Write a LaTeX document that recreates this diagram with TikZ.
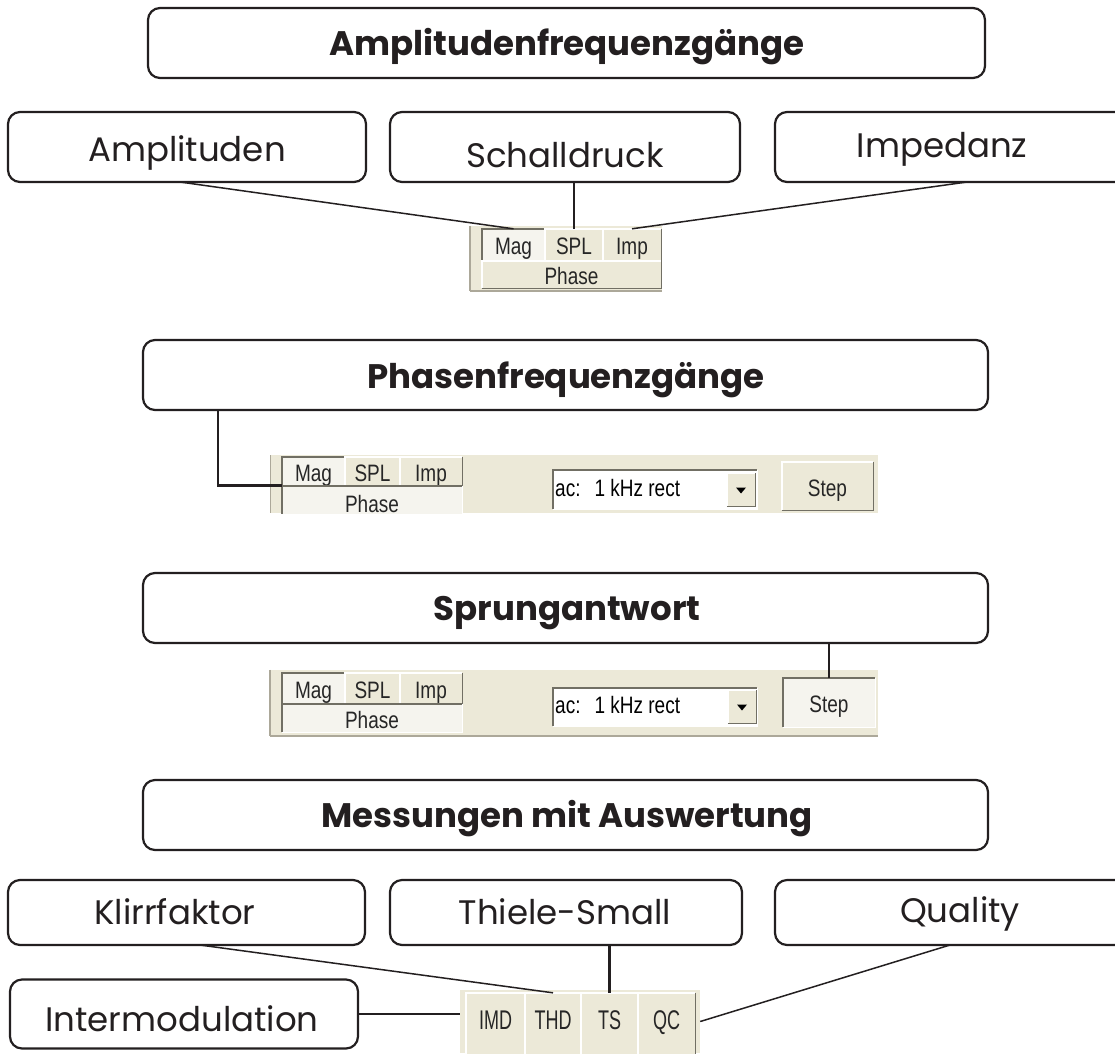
\documentclass[tikz,border=0pt]{standalone}
\usepackage{fontspec}
\usepackage{graphicx}
\setmainfont{Poppins}
\newfontfamily\uifont{Liberation Sans}
\usetikzlibrary{calc}
\definecolor{face}{HTML}{ECE9D8}
\definecolor{pressed}{HTML}{F5F4EE}
\definecolor{shadow}{HTML}{ACA899}
\definecolor{dkshadow}{HTML}{716F64}
\definecolor{ink}{HTML}{231F20}
\newcommand\ui[1]{\scalebox{1}[1.25]{#1}}
\newcommand\uib[1]{\scalebox{1}[1.5]{#1}}
\newcommand\raisedbtn[1]{%
  \draw[white, line width=1.4pt] (#1.south west) |- (#1.north east);
  \draw[dkshadow, line width=1.4pt] (#1.south west) -| (#1.north east);}
\newcommand\sunkenbtn[1]{%
  \draw[dkshadow, line width=1.4pt] (#1.south west) |- (#1.north east);
  \draw[white, line width=1.4pt] (#1.south west) -| (#1.north east);}
\tikzset{
  box/.style={draw=ink, line width=2.2pt, rounded corners=12pt, fill=white, inner sep=0pt},
  lbl/.style={font=\fontsize{34}{34}\selectfont, text=ink, anchor=base, inner sep=0pt},
  ttl/.style={font=\fontsize{34}{34}\selectfont\bfseries, text=ink, anchor=base, inner sep=0pt},
  conn/.style={draw=ink, line width=1.5pt},
  connb/.style={draw=ink, line width=2.6pt},
  panel/.style={fill=face, inner sep=0pt},
  btn/.style={fill=face, inner sep=0pt, font=\uifont\fontsize{19}{19}\selectfont, text=black!85,
    text height=20pt, text depth=0pt},
  pbtn/.style={btn, fill=pressed},
  bbtn/.style={btn, font=\uifont\fontsize{18}{18}\selectfont, text height=11.4pt, text depth=0pt},
  combo/.style={fill=white, inner sep=0pt},
  combotxt/.style={font=\uifont\fontsize{19}{19}\selectfont, text=black, inner sep=0pt, anchor=west,
    text height=14pt, text depth=0pt},
}
\begin{document}
\begin{tikzpicture}[x=1pt,y=-1pt]
\useasboundingbox (0,0) rectangle (1115,1053);
\clip (0,0) rectangle (1115,1053);
\fill[white] (0,0) rectangle (1115,1053);

% ---------- Amplitudenfrequenzgaenge ----------
\node[box, minimum width=837, minimum height=70] (ampf) at (566.5,43) {};
\node[ttl] (ampf-t) at (567,55) {Amplitudenfrequenzgänge};

\node[box, minimum width=358, minimum height=70] (amp) at (187,147) {};
\node[lbl] (amp-t) at (187,161) {Amplituden};
\node[box, minimum width=350, minimum height=70] (sch) at (565,147) {};
\node[lbl] (sch-t) at (565,167) {Schalldruck};
\node[box, minimum width=355, minimum height=70] (imp) at (952.5,147) {};
\node[lbl] (imp-t) at (942,157) {Impedanz};

% panel 1
\node[panel, minimum width=192, minimum height=65] (pan1) at (566,258.5) {};
\draw[shadow, line width=1.5pt] (pan1.north west) -- (pan1.south west);
\draw[shadow, line width=1.5pt] (pan1.south west) -- (pan1.south east);
\node[pbtn, minimum width=63, minimum height=31] (mag1) at (513.5,244.5) {\ui{Mag}};
\sunkenbtn{mag1}
\node[btn, minimum width=58, minimum height=31] (spl1) at (574,244.5) {\ui{SPL}};
\raisedbtn{spl1}
\node[btn, minimum width=58, minimum height=31] (imp1) at (632,244.5) {\ui{Imp}};
\raisedbtn{imp1}
\node[btn, minimum width=179, minimum height=27] (ph1) at (571.5,274.5) {\ui{Phase}};
\raisedbtn{ph1}

\coordinate (ampC) at (180,182);
\draw[conn] (ampC) -- (mag1.north);
\draw[connb] (spl1.north |- sch.south) -- (spl1.north);
\coordinate (impC) at (967,182);
\draw[conn] (impC) -- (imp1.north);

% ---------- Phasenfrequenzgaenge ----------
\node[box, minimum width=845, minimum height=70] (phf) at (565.5,375) {};
\node[ttl] (phf-t) at (566,388) {Phasenfrequenzgänge};

\begin{scope}
\clip (270,455) rectangle (878,513);
\node[panel, minimum width=608, minimum height=58] (pan2) at (574,484) {};
\draw[shadow, line width=1.5pt] (pan2.north west) -- (pan2.south west);
\node[pbtn, minimum width=63, minimum height=28] (mag2) at (313.5,471) {\ui{Mag}};
\sunkenbtn{mag2}
\node[btn, minimum width=55, minimum height=28] (spl2) at (372.5,471) {\ui{SPL}};
\raisedbtn{spl2}
\node[btn, minimum width=62, minimum height=28] (imp2) at (431,471) {\ui{Imp}};
\raisedbtn{imp2}
\node[pbtn, minimum width=180, minimum height=32] (ph2) at (372,502) {\ui{Phase}};
\sunkenbtn{ph2}
\node[combo, minimum width=204, minimum height=39] (combo2) at (655,489.5) {};
\sunkenbtn{combo2}
\node[combotxt] (combo2-t) at (555,489) {\ui{ac:\hspace{14pt}1 kHz rect}};
\node[btn, minimum width=28, minimum height=33] (drop2) at (741,489.5) {};
\raisedbtn{drop2}
\fill[black] ($(drop2.center)+(-5,-2)$) -- ($(drop2.center)+(5,-2)$) -- ($(drop2.center)+(0,4)$) -- cycle;
\node[btn, minimum width=91, minimum height=48] (step2) at (827.5,486) {\ui{Step}};
\raisedbtn{step2}
\end{scope}

\coordinate (phC) at (218,410);
\draw[connb] (phC) |- (mag2.south west -| ph2.west);

% ---------- Sprungantwort ----------
\node[box, minimum width=845, minimum height=70] (spr) at (565.5,608) {};
\node[ttl] (spr-t) at (567,620) {Sprungantwort};

\node[panel, minimum width=608, minimum height=66] (pan3) at (574,703) {};
\draw[shadow, line width=1.5pt] (pan3.north west) -- (pan3.south west);
\draw[shadow, line width=1.5pt] (pan3.south west) -- (pan3.south east);
\node[pbtn, minimum width=63, minimum height=30] (mag3) at (313.5,688) {\ui{Mag}};
\sunkenbtn{mag3}
\node[btn, minimum width=55, minimum height=30] (spl3) at (372.5,688) {\ui{SPL}};
\raisedbtn{spl3}
\node[btn, minimum width=62, minimum height=30] (imp3) at (431,688) {\ui{Imp}};
\raisedbtn{imp3}
\node[pbtn, minimum width=180, minimum height=28] (ph3) at (372,718) {\ui{Phase}};
\sunkenbtn{ph3}
\node[combo, minimum width=204, minimum height=38] (combo3) at (655,707) {};
\sunkenbtn{combo3}
\node[combotxt] (combo3-t) at (555,706.5) {\ui{ac:\hspace{14pt}1 kHz rect}};
\node[btn, minimum width=28, minimum height=33] (drop3) at (742,706.5) {};
\raisedbtn{drop3}
\fill[black] ($(drop3.center)+(-5,-2)$) -- ($(drop3.center)+(5,-2)$) -- ($(drop3.center)+(0,4)$) -- cycle;
\node[pbtn, minimum width=92, minimum height=49] (step3) at (829,702.5) {\ui{Step}};
\sunkenbtn{step3}

\draw[connb] (step3.north |- spr.south) -- (step3.north);

% ---------- Messungen mit Auswertung ----------
\node[box, minimum width=845, minimum height=70] (mes) at (565.5,815) {};
\node[ttl] (mes-t) at (567,827) {Messungen mit Auswertung};

\node[box, minimum width=357, minimum height=65] (kl) at (186.5,912.5) {};
\node[lbl] (kl-t) at (175,924) {Klirrfaktor};
\node[box, minimum width=352, minimum height=65] (ts) at (566,912.5) {};
\node[lbl] (ts-t) at (565,924) {Thiele-Small};
\node[box, minimum width=355, minimum height=65] (qu) at (952.5,912.5) {};
\node[lbl] (qu-t) at (960,922) {Quality};
\node[box, minimum width=348, minimum height=69] (im) at (184,1014) {};
\node[lbl] (im-t) at (182,1031) {Intermodulation};

% panel 4
\node[panel, minimum width=240, minimum height=63] (pan4) at (580,1021.5) {};
\node[bbtn, minimum width=59, minimum height=62] (imd4) at (495.5,1024) {\uib{IMD}};
\raisedbtn{imd4}
\node[bbtn, minimum width=56, minimum height=62] (thd4) at (553,1024) {\uib{THD}};
\raisedbtn{thd4}
\node[bbtn, minimum width=57, minimum height=62] (ts4) at (609.5,1024) {\uib{TS}};
\raisedbtn{ts4}
\node[bbtn, minimum width=57, minimum height=62] (qc4) at (666.5,1024) {\uib{QC}};
\raisedbtn{qc4}

\coordinate (klC) at (200,945);
\draw[conn] (klC) -- (thd4.north);
\draw[connb] (ts4.north |- ts.south) -- (ts4.north);
\coordinate (quC) at (950,945);
\draw[conn] (quC) -- (pan4.east);
\draw[connb] (im.east) -- (im.east -| pan4.west);
\end{tikzpicture}
\end{document}
